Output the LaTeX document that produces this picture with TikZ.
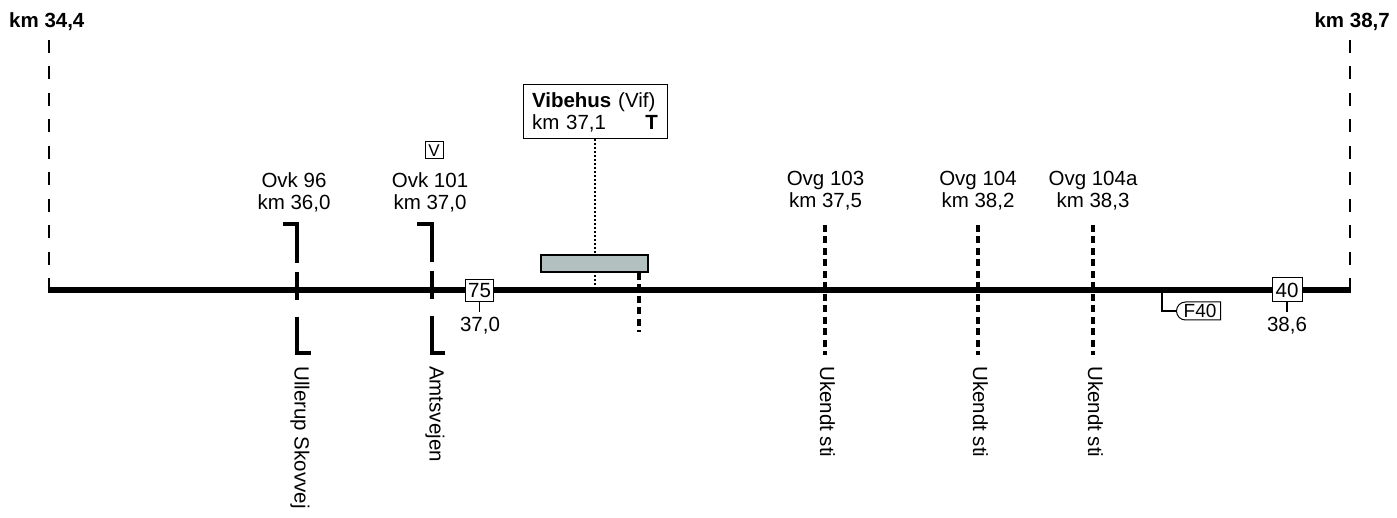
\documentclass[tikz,border=0pt]{standalone}
\usepackage{fontspec}
\setmainfont{Liberation Sans}
\usetikzlibrary{shapes.misc}
\definecolor{platgray}{RGB}{178,192,192}
\begin{document}
\begin{tikzpicture}[x=1pt,y=-1pt,line cap=butt,
  every node/.style={inner sep=0pt, font=\fontsize{20.5}{22}\selectfont},
  lbl/.style={align=center},
  vlbl/.style={rotate=-90, anchor=west},
  bold/.style={font=\fontsize{20.5}{22}\selectfont\bfseries},
  bound/.style={line width=2.7pt, dash pattern=on 13pt off 13.5pt},
  track/.style={line width=6pt},
  bracket/.style={line width=4pt, line join=miter, dash pattern=on 53pt off 9pt on 28pt off 17pt on 50pt},
  footpath/.style={line width=4pt, dash pattern=on 7pt off 4.5pt},
  kmbox/.style={draw, fill=white, line width=1pt},
  kmtick/.style={line width=1.6pt},
  dotline/.style={line width=2pt, dash pattern=on 2pt off 2pt}]
\useasboundingbox (0,0) rectangle (1397,518);

% boundaries and track
\coordinate (Ltop) at (49,40);   \coordinate (Lbot) at (49,291.5);
\coordinate (Rtop) at (1350,40); \coordinate (Rbot) at (1350,291.5);
\coordinate (L0) at (47.7,290);  \coordinate (R0) at (1351.3,290);
\draw[bound] (Ltop) -- (Lbot);
\draw[bound] (Rtop) -- (Rbot);
\draw[track] (L0) -- (R0);
\node[bold, anchor=base west] (kmA) at (9,28) {km 34,4};
\node[bold, anchor=base east] (kmB) at (1390,28) {km 38,7};

% road crossings (brackets)
\draw[bracket] (283,224) -- (297,224) -- (297,353) -- (313,353);
\draw[bracket] (417,224) -- (432,224) -- (432,353) -- (448,353);
\node[lbl] (ovk96) at (294,192) {Ovk 96\\km 36,0};
\node[lbl] (ovk101) at (430,192) {Ovk 101\\km 37,0};
\node[draw, line width=1pt, minimum width=18pt, minimum height=17pt,
      font=\fontsize{17}{17}\selectfont] (vbox) at (434,150.5) {V};
\node[vlbl] (ull) at (300,366) {Ullerup Skovvej};
\node[vlbl] (amt) at (435,366) {Amtsvejen};

% footpaths
\foreach \x/\n in {825/a,978/b,1093/c}{
  \coordinate (fp\n t) at (\x,225); \coordinate (fp\n b) at (\x,355);
  \draw[footpath] (fp\n t) -- (fp\n b);
  \node[vlbl] (uk\n) at (\x+2.5,366) {Ukendt sti};
}
\node[lbl] (ovg103) at (825.5,191) {Ovg 103\\km 37,5};
\node[lbl] (ovg104) at (978,191) {Ovg 104\\km 38,2};
\node[lbl] (ovg104a) at (1093,191) {Ovg 104a\\km 38,3};

% station
\node[draw, line width=1pt, fill=white, text width=126pt, align=left,
      minimum width=144pt, minimum height=54pt, inner xsep=9pt] (vib) at (595,112)
      {\mbox{\textbf{Vibehus}~(Vif)}\\km 37,1\hfill\textbf{T}\hspace*{2pt}};
\coordinate (vibfoot) at (595,286);
\draw[dotline] (vib.south) -- (vibfoot);
\node[draw, line width=1.3pt, fill=platgray, minimum width=107pt, minimum height=17pt] (plat) at (594.5,263.5) {};
\coordinate (platfoot) at (639,332);
\draw[footpath] (plat.south -| platfoot) -- (platfoot);

% km posts
\node[kmbox, minimum width=28pt, minimum height=22pt] (km75) at (479.5,291) {75};
\coordinate (t75) at (479.5,312);
\draw[kmtick] (km75.south) -- (t75);
\node[anchor=north] (km75l) at (480,317) {37,0};

\node[kmbox, minimum width=30pt, minimum height=24pt] (km40) at (1287,290) {40};
\coordinate (t40) at (1287,312);
\draw[kmtick] (km40.south) -- (t40);
\node[anchor=north] (km40l) at (1287,317) {38,6};

% F40 signal
\node[draw, rounded rectangle, rounded rectangle right arc=none, line width=1pt,
      minimum height=18pt, minimum width=44pt, font=\fontsize{19}{19}\selectfont] (f40) at (1200,311) {F40};
\coordinate (f40br) at (1162,290);
\draw[line width=2pt] (f40br) |- (f40.west);
\end{tikzpicture}
\end{document}
